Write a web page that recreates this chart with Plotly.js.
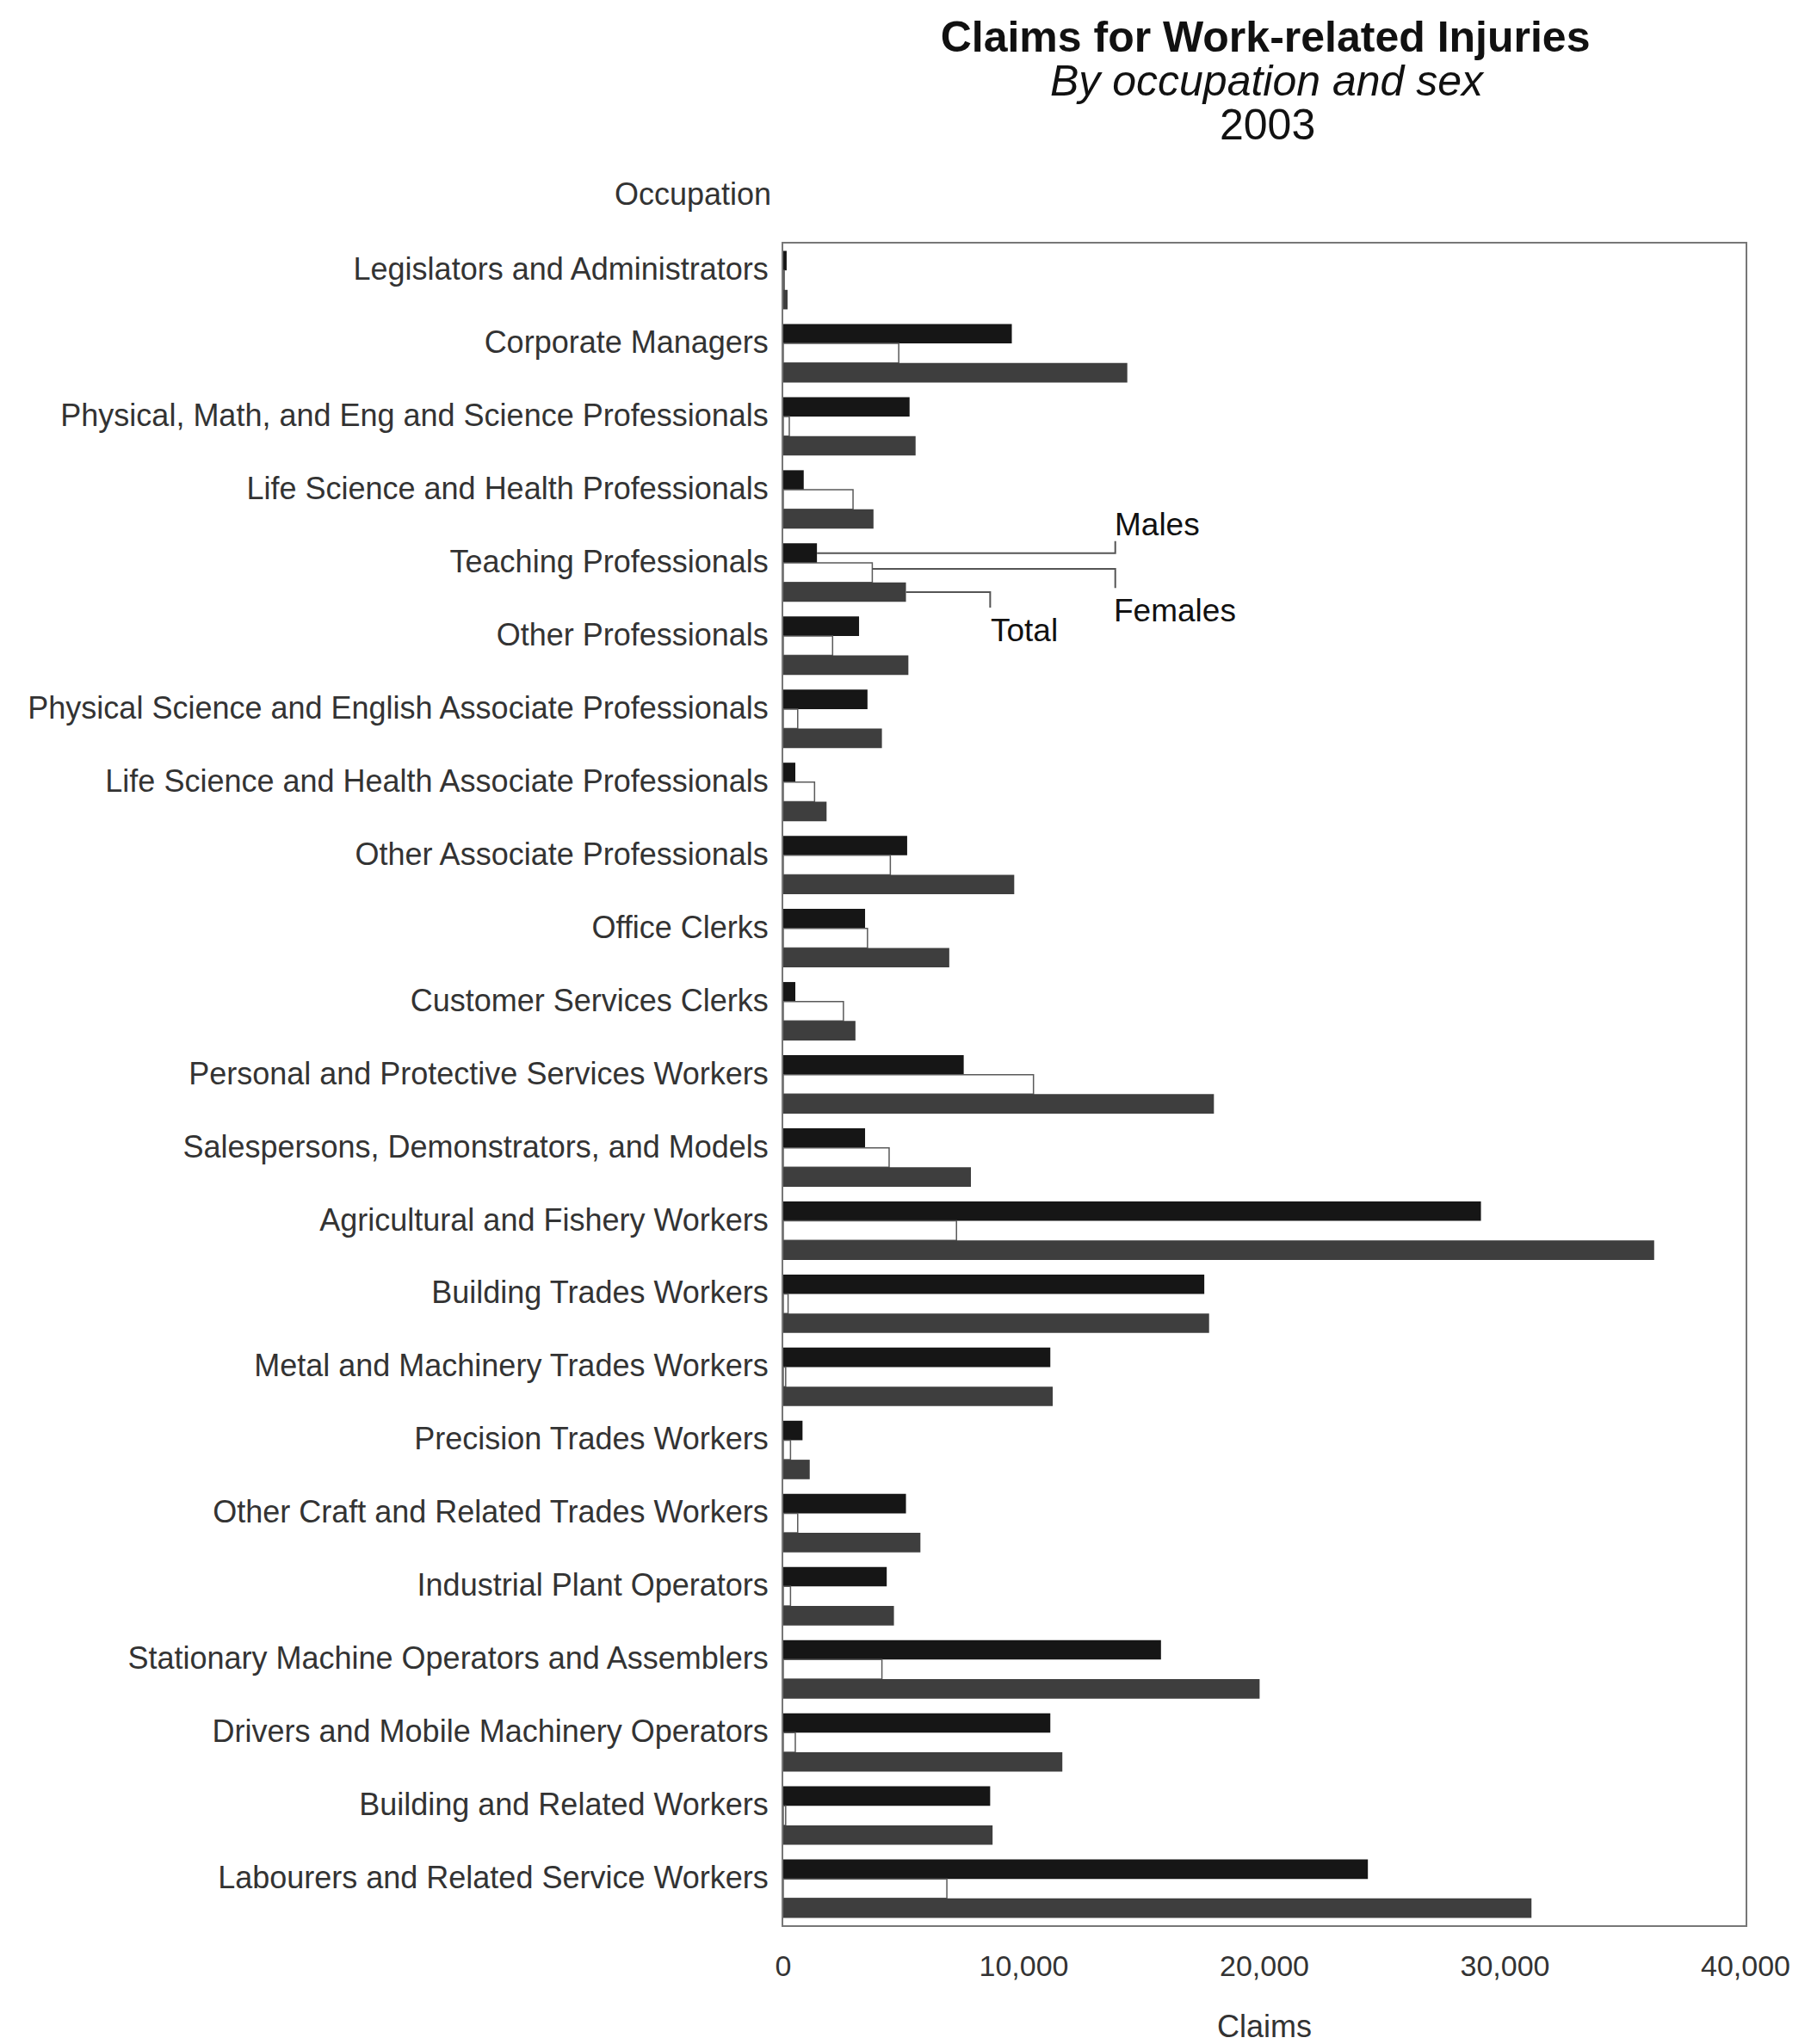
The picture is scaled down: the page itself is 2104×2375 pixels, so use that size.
<!DOCTYPE html>
<html>
<head>
<meta charset="utf-8">
<script src="https://cdn.plot.ly/plotly-3.0.1.min.js"></script>
<style>
  html, body { margin: 0; padding: 0; background: #ffffff; }
  #chart { width: 2104px; height: 2375px; }
</style>
</head>
<body>
<div id="chart"></div>
<script>
// Occupation groups, listed top to bottom
const occupations = [
  "Legislators and Administrators",
  "Corporate Managers",
  "Physical, Math, and Eng and Science Professionals",
  "Life Science and Health Professionals",
  "Teaching Professionals",
  "Other Professionals",
  "Physical Science and English Associate Professionals",
  "Life Science and Health Associate Professionals",
  "Other Associate Professionals",
  "Office Clerks",
  "Customer Services Clerks",
  "Personal and Protective Services Workers",
  "Salespersons, Demonstrators, and Models",
  "Agricultural and Fishery Workers",
  "Building Trades Workers",
  "Metal and Machinery Trades Workers",
  "Precision Trades Workers",
  "Other Craft and Related Trades Workers",
  "Industrial Plant Operators",
  "Stationary Machine Operators and Assemblers",
  "Drivers and Mobile Machinery Operators",
  "Building and Related Workers",
  "Labourers and Related Service Workers"
];

// Claims, 2003
const males = [
  140, 9500, 5250, 850, 1400, 3150, 3500, 500, 5150, 3400, 500, 7500,
  3400, 29000, 17500, 11100, 800, 5100, 4300, 15700, 11100, 8600, 24300
];
const females = [
  40, 4800, 250, 2900, 3700, 2050, 600, 1300, 4450, 3500, 2500, 10400,
  4400, 7200, 200, 100, 300, 600, 300, 4100, 500, 100, 6800
];
const totals = [
  180, 14300, 5500, 3750, 5100, 5200, 4100, 1800, 9600, 6900, 3000, 17900,
  7800, 36200, 17700, 11200, 1100, 5700, 4600, 19800, 11600, 8700, 31100
];

const xTickVals = [0, 10000, 20000, 30000, 40000];
const xTickText = ["0", "10,000", "20,000", "30,000", "40,000"];

const FONT = "Liberation Sans, Arial, sans-serif";
const BARGAP = 0.2;
const barWidth = (1 - BARGAP) / 3;   // thickness of one bar, in category units

const traces = [
  {
    type: "bar", orientation: "h", name: "Males",
    y: occupations, x: males,
    marker: { color: "#161616", line: { width: 0 } },
    hoverinfo: "x+name"
  },
  {
    type: "bar", orientation: "h", name: "Females",
    y: occupations, x: females,
    marker: { color: "#ffffff", line: { color: "#5a5a5a", width: 1.5 } },
    hoverinfo: "x+name"
  },
  {
    type: "bar", orientation: "h", name: "Total",
    y: occupations, x: totals,
    marker: { color: "#3e3e3e", line: { width: 0 } },
    hoverinfo: "x+name"
  }
];

// Callout lines naming the three bars of the Teaching Professionals group
const k = occupations.indexOf("Teaching Professionals");
const calloutX = 13800;
const totalCalloutX = 8600;
const lineStyle = { color: "#555555", width: 2 };
const shapes = [
  {
    type: "path", xref: "x", yref: "y", line: lineStyle,
    path: `M ${males[k]},${k - barWidth} L ${calloutX},${k - barWidth} L ${calloutX},${k - 0.43}`
  },
  {
    type: "path", xref: "x", yref: "y", line: lineStyle,
    path: `M ${females[k]},${k - 0.05} L ${calloutX},${k - 0.05} L ${calloutX},${k + 0.21}`
  },
  {
    type: "path", xref: "x", yref: "y", line: lineStyle,
    path: `M ${totals[k]},${k + barWidth} L ${totalCalloutX},${k + barWidth} L ${totalCalloutX},${k + 0.48}`
  }
];

const calloutFont = { family: FONT, size: 37, color: "#111111" };
const annotations = [
  { xref: "x", yref: "y", x: calloutX - 80, y: k - 0.66, text: "Males",
    xanchor: "left", yanchor: "middle", showarrow: false, font: calloutFont },
  { xref: "x", yref: "y", x: calloutX - 120, y: k + 0.52, text: "Females",
    xanchor: "left", yanchor: "middle", showarrow: false, font: calloutFont },
  { xref: "x", yref: "y", x: totalCalloutX - 60, y: k + 0.79, text: "Total",
    xanchor: "left", yanchor: "middle", showarrow: false, font: calloutFont },
  // subtitle lines
  { xref: "paper", yref: "paper", x: 0.5027, y: 1.0967, text: "<i>By occupation and sex</i>",
    xanchor: "center", yanchor: "middle", showarrow: false,
    font: { family: FONT, size: 50, color: "#111111" } },
  { xref: "paper", yref: "paper", x: 0.5027, y: 1.0706, text: "2003",
    xanchor: "center", yanchor: "middle", showarrow: false,
    font: { family: FONT, size: 50, color: "#111111" } },
  // heading over the category labels
  { xref: "paper", yref: "paper", x: -0.0107, y: 1.0292, text: "Occupation",
    xanchor: "right", yanchor: "middle", showarrow: false,
    font: { family: FONT, size: 36, color: "#333333" } }
];

const layout = {
  width: 2104,
  height: 2375,
  paper_bgcolor: "#ffffff",
  plot_bgcolor: "#ffffff",
  margin: { l: 910, r: 76, t: 283, b: 138 },
  showlegend: false,
  barmode: "group",
  bargap: BARGAP,
  bargroupgap: 0,
  title: {
    text: "<b>Claims for Work-related Injuries</b>",
    xref: "container", yref: "container",
    x: 0.6987, y: 0.9823, xanchor: "center", yanchor: "middle",
    font: { family: FONT, size: 50, color: "#111111" }
  },
  xaxis: {
    range: [0, 40000],
    tickvals: xTickVals,
    ticktext: xTickText,
    ticks: "",
    ticklabelstandoff: 16,
    showgrid: false,
    zeroline: false,
    showline: true, mirror: true, linecolor: "#777777", linewidth: 2,
    tickfont: { family: FONT, size: 34, color: "#333333" },
    title: { text: "Claims", standoff: 54, font: { family: FONT, size: 36, color: "#333333" } }
  },
  yaxis: {
    type: "category",
    autorange: "reversed",
    ticks: "",
    showgrid: false,
    zeroline: false,
    showline: true, mirror: true, linecolor: "#777777", linewidth: 2,
    ticklabelstandoff: 8,
    ticklabelshift: 13,
    tickfont: { family: FONT, size: 36, color: "#333333" }
  },
  shapes: shapes,
  annotations: annotations
};

Plotly.newPlot("chart", traces, layout, { displayModeBar: false, staticPlot: true });
</script>
</body>
</html>
